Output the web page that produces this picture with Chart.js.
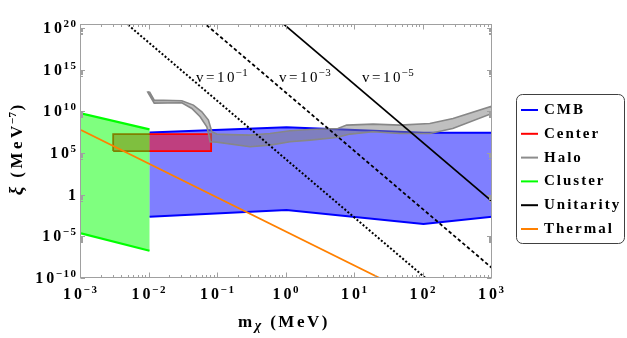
<!DOCTYPE html>
<html><head><meta charset="utf-8">
<script src="https://cdn.jsdelivr.net/npm/chart.js@4.4.1/dist/chart.umd.min.js"></script>
<style>html,body{margin:0;padding:0;background:#fff;overflow:hidden}#wrap{width:627px;height:338px}</style>
</head><body><div id="wrap"><canvas id="c" width="627" height="338"></canvas></div>
<script>
// ---------- data (m_chi in MeV, xi in MeV^-7) ----------
const cmbM        = [0.01, 1, 100, 1000];
const cmbTopXi    = [3.0e7, 1.3e8, 2.75e7, 2.75e7];
const cmbBotXi    = [2.3e-3, 1.45e-2, 3.0e-4, 2.3e-3];

const centerM     = [2.95e-3, 0.0794];
const centerXi    = [1.74e5, 1.9e7];          // lower, upper

const haloM  = [0.0100, 0.01172, 0.02965, 0.04375, 0.05808, 0.07244, 0.08128, 0.09616, 0.1500, 0.2938,
                0.5754, 1.125, 2.203, 5.636, 7.551, 18.41, 45.19, 123.6, 269.8, 1000,
                1000, 267.3, 123.6, 45.19, 18.24, 8.433, 5.395, 2.203, 1.125, 0.5754,
                0.2938, 0.09616, 0.07674, 0.07244, 0.06871, 0.05483, 0.04150, 0.02965, 0.01172, 0.009419, 0.0100];
const haloXi = [2.29e12, 2.29e11, 1.91e11, 5.75e10, 9.12e9, 9.12e8, 3.63e7, 1.91e7, 1.66e7, 1.45e7,
                2.29e7, 4.79e7, 6.92e7, 9.12e7, 2.29e8, 3.02e8, 2.29e8, 3.63e8, 1.45e9, 4.37e10,
                5.75e9, 9.12e7, 2.29e7, 2.29e7, 3.63e7, 1.91e7, 7.59e6, 3.63e6, 2.29e6, 9.12e5,
                5.75e5, 2.09e6, 2.29e6, 2.29e7, 1.45e8, 2.29e9, 2.29e10, 1.10e11, 1.0e11, 2.09e12, 2.29e12];

const clusterM     = [0.001, 0.01];
const clusterTopXi = [5.75e9, 6.9e7];
const clusterBotXi = [2.3e-5, 1.9e-7];

const unitV1M  = [3.98e-3, 125.9];  const unitV1Xi = [1e21, 3.16e-11];   // v = 10^-1
const unitV3M  = [0.0501, 1000];    const unitV3Xi = [2.0e21, 1.58e-9];  // v = 10^-3
const unitV5M  = [0.794, 1000];     const unitV5Xi = [7.9e20, 0.158];    // v = 10^-5
const unitLabels = ['\u22121', '\u22123', '\u22125'];

const thermalM  = [0.001, 22.9];
const thermalXi = [5.75e7, 1e-10];

const xTickExps = [-3, -2, -1, 0, 1, 2, 3];
const yTickExps = [-10, -5, 0, 5, 10, 15, 20];
const legendNames  = ['CMB', 'Center', 'Halo', 'Cluster', 'Unitarity', 'Thermal'];
const legendColors = ['#0000ff', '#ff0000', '#8c8c8c', '#00ff00', '#000000', '#ff8000'];

// ---------- helpers ----------
const pts = (ms, xs) => ms.map((m, i) => ({x: m, y: xs[i]}));
const SERIF = "'Liberation Serif','DejaVu Serif',serif";
const F = (style, size) => `${style} ${size}px ${SERIF}`;
const MINUS = '\u2212';

function runWidth(ctx, r) {
  ctx.font = r.f; let w = r.pre || 0; const ch = [...r.t];
  ch.forEach((c, i) => { w += ctx.measureText(c).width + (i < ch.length - 1 ? (r.sp || 0) : 0); });
  return w;
}
function drawRuns(ctx, runs, x, y, align) {
  const total = runs.reduce((s, r) => s + runWidth(ctx, r), 0);
  let cx = align === 'center' ? x - total / 2 : align === 'right' ? x - total : x;
  ctx.textAlign = 'left'; ctx.textBaseline = 'alphabetic';
  for (const r of runs) {
    ctx.font = r.f; cx += r.pre || 0; const ch = [...r.t];
    ch.forEach((c, i) => { ctx.fillText(c, cx, y + (r.dy || 0)); cx += ctx.measureText(c).width + (i < ch.length - 1 ? (r.sp || 0) : 0); });
  }
}
function powRuns(exp) {
  const e = exp < 0 ? MINUS + String(-exp) : String(exp);
  return [{t: '10', f: F('bold', 16), sp: 3}, {t: e, f: F('bold', 11), sp: 1.5, pre: 1.5, dy: -6}];
}

// ---------- datasets ----------
const cmbPoly = pts(cmbM, cmbTopXi).concat(pts(cmbM, cmbBotXi).reverse());
const centerPoly = [
  {x: centerM[0], y: centerXi[0]}, {x: centerM[0], y: centerXi[1]},
  {x: centerM[1], y: centerXi[1]}, {x: centerM[1], y: centerXi[0]}, {x: centerM[0], y: centerXi[0]}];
const clusterPoly = pts(clusterM, clusterTopXi).concat(pts(clusterM, clusterBotXi).reverse());

const ds = [];
function add(o) { ds.push(Object.assign({pointRadius: 0, pointHoverRadius: 0, tension: 0, fill: false, borderWidth: 1.5, clip: 0}, o)); }
add({label: 'CMB', data: cmbPoly, fill: 'shape', backgroundColor: 'rgba(0,0,255,0.5)', borderWidth: 0});
add({label: 'CMB top', data: pts(cmbM, cmbTopXi), borderColor: '#0000ff', borderWidth: 2});
add({label: 'CMB bottom', data: pts(cmbM, cmbBotXi), borderColor: '#0000ff', borderWidth: 2});
add({label: 'Center', data: centerPoly, fill: 'shape', backgroundColor: 'rgba(255,0,0,0.5)', borderColor: '#ff0000', borderWidth: 1.8});
add({label: 'Halo', data: pts(haloM, haloXi), fill: 'shape', backgroundColor: 'rgba(128,128,128,0.5)', borderColor: '#878787', borderWidth: 1.6});
add({label: 'Cluster', data: clusterPoly, fill: 'shape', backgroundColor: 'rgba(0,255,0,0.5)', borderWidth: 0});
add({label: 'Cluster top', data: pts(clusterM, clusterTopXi), borderColor: '#00ff00', borderWidth: 2.2});
add({label: 'Cluster bottom', data: pts(clusterM, clusterBotXi), borderColor: '#00ff00', borderWidth: 2.2});
add({label: 'Unitarity v=1e-1', data: pts(unitV1M, unitV1Xi), borderColor: '#000', borderWidth: 2, borderDash: [2, 2]});
add({label: 'Unitarity v=1e-3', data: pts(unitV3M, unitV3Xi), borderColor: '#000', borderWidth: 1.8, borderDash: [3.5, 2.5]});
add({label: 'Unitarity v=1e-5', data: pts(unitV5M, unitV5Xi), borderColor: '#000', borderWidth: 1.7});
add({label: 'Thermal', data: pts(thermalM, thermalXi), borderColor: '#ff8000', borderWidth: 1.8});
ds.forEach((d, i) => { d.order = ds.length - i; });

// ---------- decorations ----------
const deco = {
  id: 'deco',
  afterDraw(chart) {
    const {ctx, chartArea: a, scales: {x, y}} = chart;
    ctx.save();
    // frame
    ctx.strokeStyle = '#a0a0a0'; ctx.lineWidth = 1;
    ctx.strokeRect(a.left - 0.5, a.top + 0.5, a.right - a.left, a.bottom - a.top - 1);
    // x ticks (bottom and top, inward)
    ctx.beginPath();
    for (let e = -3; e <= 3; e++) {
      for (let k = 1; k <= 9; k++) {
        if (e === 3 && k > 1) break;
        const px = Math.round(x.getPixelForValue(k * Math.pow(10, e))) - 0.5;
        const len = k === 1 ? 5 : 2.5;
        ctx.moveTo(px, a.bottom - 0.5); ctx.lineTo(px, a.bottom - 0.5 - len);
        ctx.moveTo(px, a.top + 0.5); ctx.lineTo(px, a.top + 0.5 + len);
      }
    }
    // y ticks (left and right, inward)
    for (const e of yTickExps) {
      const py = Math.round(y.getPixelForValue(Math.pow(10, e))) + 0.5;
      ctx.moveTo(a.left - 0.5, py); ctx.lineTo(a.left + 4, py);
      ctx.moveTo(a.right - 0.5, py); ctx.lineTo(a.right - 5, py);
      for (let k = 2; k <= 9; k++) {
        const qy = Math.round(y.getPixelForValue(k * Math.pow(10, e - 1))) + 0.5;
        if (qy > a.bottom - 1) continue;
        ctx.moveTo(a.left - 0.5, qy); ctx.lineTo(a.left + 2, qy);
        ctx.moveTo(a.right - 0.5, qy); ctx.lineTo(a.right - 3, qy);
      }
    }
    ctx.stroke();

    ctx.fillStyle = '#000';
    // x tick labels
    for (const e of xTickExps) {
      const px = x.getPixelForValue(Math.pow(10, e));
      drawRuns(ctx, powRuns(e), px - 1, 298.5, 'center');
    }
    // y tick labels
    for (const e of yTickExps) {
      const py = y.getPixelForValue(Math.pow(10, e));
      if (e === 0) drawRuns(ctx, [{t: '1', f: F('bold', 16)}], 76, py + 5, 'right');
      else drawRuns(ctx, powRuns(e), 76, py + 5, 'right');
    }
    // axis titles
    drawRuns(ctx, [
      {t: 'm', f: F('bold', 17)},
      {t: '\u03c7', f: F('italic bold', 14), dy: 3, pre: 2.5},
      {t: '(MeV)', f: F('bold', 17), sp: 2.5, pre: 9}
    ], 238, 327, 'left');
    ctx.save();
    ctx.translate(22, 150); ctx.rotate(-Math.PI / 2);
    drawRuns(ctx, [
      {t: '\u03be', f: F('italic bold', 19)},
      {t: '(MeV', f: F('bold', 17), sp: 3.5, pre: 9},
      {t: MINUS + '7', f: F('bold', 11), sp: 0.5, pre: 1.5, dy: -6},
      {t: ')', f: F('bold', 17), pre: 1.5}
    ], 0, 0, 'center');
    ctx.restore();
    // unitarity labels
    const vx = [196, 279, 362];
    unitLabels.forEach((lab, i) => {
      drawRuns(ctx, [
        {t: 'v=10', f: F('normal', 15), sp: 2.5},
        {t: lab, f: F('normal', 11), pre: 1, sp: 0.5, dy: -6}
      ], vx[i], 81.5, 'left');
    });
    // legend
    ctx.fillStyle = '#fff'; ctx.strokeStyle = '#404040'; ctx.lineWidth = 1;
    ctx.beginPath(); ctx.roundRect(516.5, 94.5, 108, 149, 6); ctx.fill(); ctx.stroke();
    legendNames.forEach((name, i) => {
      const ly = 110 + i * 23.8;
      ctx.strokeStyle = legendColors[i]; ctx.lineWidth = 2;
      ctx.beginPath(); ctx.moveTo(521, ly); ctx.lineTo(538, ly); ctx.stroke();
      ctx.fillStyle = '#000';
      drawRuns(ctx, [{t: name, f: F('bold', 15), sp: 2}], 544, ly + 4, 'left');
    });
    ctx.restore();
  }
};

new Chart(document.getElementById('c'), {
  type: 'line',
  data: {datasets: ds},
  options: {
    responsive: false, animation: false, devicePixelRatio: 1, events: [],
    layout: {padding: {left: 81, right: 135, top: 24, bottom: 60}},
    plugins: {legend: {display: false}, tooltip: {enabled: false}, filler: {propagate: false}},
    scales: {
      x: {type: 'logarithmic', min: 1e-3, max: 1e3, display: false},
      y: {type: 'logarithmic', min: 1e-10, max: 3.162e20, display: false}
    }
  },
  plugins: [deco]
});
</script></body></html>
